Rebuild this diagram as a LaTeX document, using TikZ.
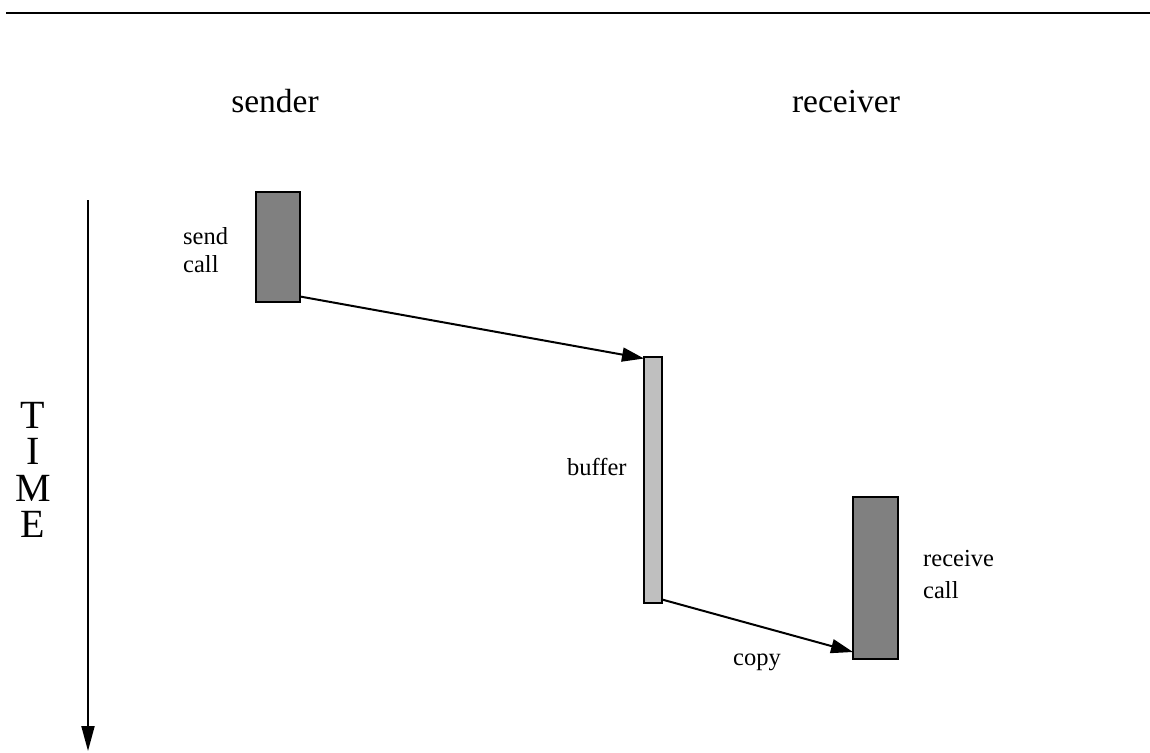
\documentclass[tikz,border=0pt]{standalone}
\usepackage{fontspec}
\setmainfont{Liberation Serif}
\usetikzlibrary{arrows.meta}
\begin{document}
\begin{tikzpicture}[x=1pt,y=-1pt,
  bar/.style={draw=black,line width=2pt,inner sep=0pt,outer sep=0pt},
  callbar/.style={bar,fill=black!50},
  bufbar/.style={bar,fill=black!25},
  conn/.style={line width=2pt,-{Triangle[length=22pt,width=14pt]}},
  small/.style={font=\fontsize{24.5}{28}\selectfont,align=left,inner sep=0pt},
  head/.style={font=\fontsize{33.5}{38}\selectfont,inner sep=0pt}]
\useasboundingbox (0,0) rectangle (1150,752);
% rule along the top edge
\draw[line width=2.5pt] (6,13) -- (1150,13);
% column headings
\node[head,anchor=base] (sender) at (275,112) {sender};
\node[head,anchor=base] (receiver) at (846,112) {receiver};
% time axis
\coordinate (t0) at (88,200);
\coordinate (t1) at (88,751);
\draw[line width=2pt,-{Triangle[length=25pt,width=13pt]}] (t0) -- (t1);
\node[font=\fontsize{40}{36.5}\selectfont,align=center,inner sep=0pt] (time) at (33,470) {T\\I\\M\\E};
% activity bars
\node[callbar,minimum width=44pt,minimum height=110pt] (send) at (278,246.5) {};
\node[bufbar,minimum width=18pt,minimum height=246pt] (buffer) at (653,479.5) {};
\node[callbar,minimum width=45pt,minimum height=162pt] (recv) at (875.5,578) {};
% labels (base anchor sits on the last line)
\node[small,anchor=base west] (sendlbl) at (183,272) {send\\call};
\node[small,anchor=base west] (buflbl) at (567,475) {buffer};
\node[small,anchor=base west,font=\fontsize{24.5}{32}\selectfont] (recvlbl) at (923,598) {receive\\call};
\node[small,anchor=base west] (copylbl) at (733,665) {copy};
% messages
\draw[conn] ([yshift=5pt]send.south east) -- ([yshift=-2pt]buffer.north west);
\draw[conn] ([yshift=3pt]buffer.south east) -- ([yshift=7pt]recv.south west);
\end{tikzpicture}
\end{document}
